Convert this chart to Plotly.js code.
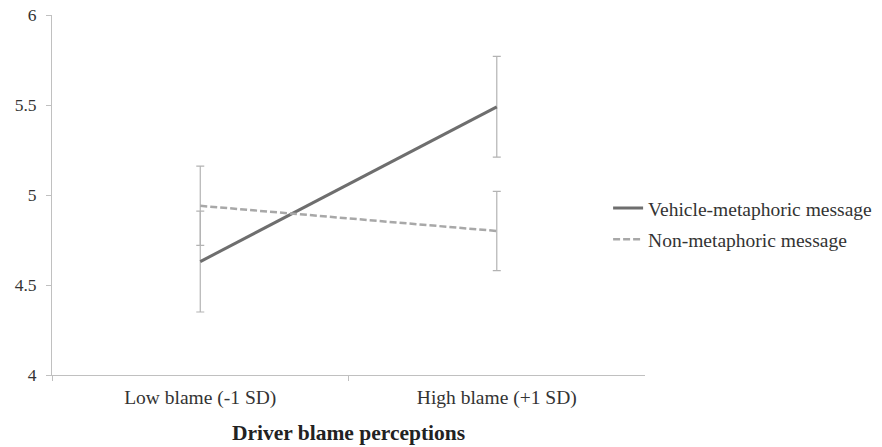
<!DOCTYPE html>
<html>
<head>
<meta charset="utf-8">
<script src="https://cdn.plot.ly/plotly-3.0.1.min.js"></script>
<style>html,body{margin:0;padding:0;background:#fff;}#chart{width:882px;height:447px;}</style>
</head>
<body>
<div id="chart"></div>
<script>
const categories = ["Low blame (-1 SD)", "High blame (+1 SD)"];
const vehicleValues = [4.63, 5.49];
const vehicleErrors = [0.28, 0.28];
const nonMetaValues = [4.94, 4.80];
const nonMetaErrors = [0.22, 0.22];
const seriesNames = ["Vehicle-metaphoric message", "Non-metaphoric message"];
const xTitle = "Driver blame perceptions";

const font = "Liberation Serif";

const traces = [
  {
    x: categories, y: vehicleValues, name: seriesNames[0], type: "scatter", mode: "lines",
    legendgroup: "a",
    line: {color: "#6e6e6e", width: 3},
    error_y: {type: "data", array: vehicleErrors, visible: true, color: "#b3b3b3", thickness: 1.2, width: 4}
  },
  {
    x: categories, y: nonMetaValues, name: seriesNames[1], type: "scatter", mode: "lines",
    legendgroup: "b",
    line: {color: "#a8a8a8", width: 2.5, dash: "7px,3px"},
    error_y: {type: "data", array: nonMetaErrors, visible: true, color: "#b3b3b3", thickness: 1.2, width: 4}
  }
];

const layout = {
  width: 882, height: 447,
  margin: {l: 52, r: 0, t: 15, b: 72},
  paper_bgcolor: "#fff", plot_bgcolor: "#fff",
  font: {family: font, size: 19, color: "#333"},
  showlegend: true,
  legend: {x: 0.670, xanchor: "left", y: 0.42, yanchor: "middle", font: {family: font, size: 19.5, color: "#333"}, tracegroupgap: 3, bgcolor: "rgba(0,0,0,0)", borderwidth: 0},
  xaxis: {
    domain: [0, 0.7145],
    type: "category", range: [-0.5, 1.5], tickson: "boundaries",
    showline: true, linecolor: "#c0c0c0", linewidth: 1,
    ticks: "outside", ticklen: 5, tickcolor: "#c0c0c0",
    showgrid: false, zeroline: false,
    ticklabelstandoff: 5,
    tickfont: {family: font, size: 19.5, color: "#333"},
    title: {text: "<b>" + xTitle + "</b>", font: {family: font, size: 21.5, color: "#222"}, standoff: 16}
  },
  yaxis: {
    range: [4, 6], dtick: 0.5, tick0: 4,
    showline: true, linecolor: "#c0c0c0", linewidth: 1,
    ticks: "outside", ticklen: 5, tickcolor: "#c0c0c0",
    showgrid: false, zeroline: false,
    ticklabelstandoff: 6,
    tickfont: {family: font, size: 17.5, color: "#333"}
  }
};

Plotly.newPlot("chart", traces, layout, {displayModeBar: false, staticPlot: true});
</script>
</body>
</html>
